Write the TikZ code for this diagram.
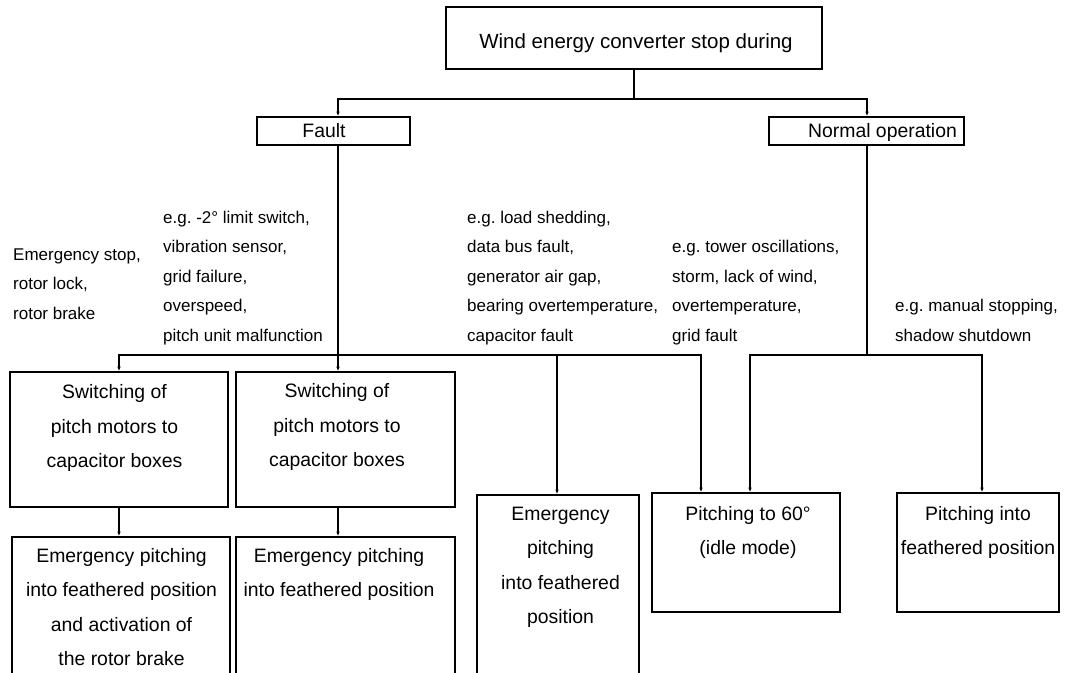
\documentclass[tikz,border=0pt]{standalone}
\usepackage{fontspec}
\setmainfont{Liberation Sans}
\usetikzlibrary{arrows.meta,calc}
\begin{document}
\frenchspacing
\begin{tikzpicture}[x=1pt,y=-1pt,
  box/.style={draw, line width=1.6pt, inner sep=0pt, rectangle},
  conn/.style={line width=1.3pt},
  arr/.style={conn, -{Latex[length=4.5pt,width=3.5pt]}},
  btext/.style={font=\fontsize{19.4}{34.3}\selectfont, align=center, anchor=base, inner sep=0pt},
  atext/.style={font=\fontsize{17}{29.5}\selectfont, align=left, anchor=base west, inner sep=0pt},
]
\useasboundingbox (0,0) rectangle (1065,672);
\clip (0,0) rectangle (1065,672);
% boxes
\node[box, minimum width=376pt, minimum height=62pt] (top) at (634,38) {};
\node[box, minimum width=153pt, minimum height=28pt] (fault) at (333.5,131) {};
\node[box, minimum width=195pt, minimum height=28pt] (normal) at (866.5,131) {};
\node[box, minimum width=218pt, minimum height=135pt] (b1) at (119,439.5) {};
\node[box, minimum width=219pt, minimum height=135pt] (b2) at (345.5,439.5) {};
\node[box, minimum width=218pt, minimum height=183pt] (b3) at (121,628.5) {};
\node[box, minimum width=219pt, minimum height=183pt] (b4) at (345.5,628.5) {};
\node[box, minimum width=162pt, minimum height=225pt] (b5) at (558,607.5) {};
\node[box, minimum width=188pt, minimum height=119pt] (b6) at (746,552.5) {};
\node[box, minimum width=162pt, minimum height=119pt] (b7) at (978,552.5) {};
% box texts (anchor base = baseline of the last line)
\node[btext, font=\fontsize{20.5}{24}\selectfont] (ttop) at (636,48.5) {Wind energy converter stop during};
\node[btext] (tfault) at (324,137) {Fault};
\node[btext] (tnormal) at (882.5,137) {Normal operation};
\node[btext] (t1) at (114.5,467.5) {Switching of\\pitch motors to\\capacitor boxes};
\node[btext] (t2) at (337,466.5) {Switching of\\pitch motors to\\capacitor boxes};
\node[btext] (t3) at (121.5,665.4) {Emergency pitching\\into feathered position\\and activation of\\the rotor brake};
\node[btext] (t4) at (339,596.8) {Emergency pitching\\into feathered position};
\node[btext] (t5) at (560.5,623.4) {Emergency\\pitching\\into feathered\\position};
\node[btext] (t6) at (748,554.8) {Pitching to 60°\\(idle mode)};
\node[btext] (t7) at (978,554.8) {Pitching into\\feathered position};
% annotations
\node[atext] (a1) at (13,319) {Emergency stop,\\rotor lock,\\rotor brake};
\node[atext] (a2) at (163,341) {e.g. -2° limit switch,\\vibration sensor,\\grid failure,\\overspeed,\\pitch unit malfunction};
\node[atext] (a3) at (467,341) {e.g. load shedding,\\data bus fault,\\generator air gap,\\bearing overtemperature,\\capacitor fault};
\node[atext] (a4) at (672,341) {e.g. tower oscillations,\\storm, lack of wind,\\overtemperature,\\grid fault};
\node[atext] (a5) at (895,341) {e.g. manual stopping,\\shadow shutdown};
% connectors
\coordinate (fj) at (338,99);
\coordinate (nj) at (867,99);
\draw[arr] (top.south) |- (fj) -- (fj |- fault.north);
\draw[arr] (top.south) |- (nj) -- (nj |- normal.north);
\coordinate (fb) at (338,355);
\coordinate (f1) at (119,355);
\coordinate (f5) at (557,355);
\coordinate (f6) at (701,355);
\draw[arr] (fj |- fault.south) -- (fb |- b2.north);
\draw[arr] (fb) -| (f1 |- b1.north);
\draw[arr] (fb) -| (f6 |- b6.north);
\draw[arr] (f5) -- (f5 |- b5.north);
\coordinate (nb) at (867,355);
\coordinate (n6) at (750,355);
\coordinate (n7) at (982,355);
\draw[arr] (nj |- normal.south) -- (nb) -| (n6 |- b6.north);
\draw[arr] (nb) -| (n7 |- b7.north);
\draw[arr] (b1.south -| f1) -- (f1 |- b3.north);
\draw[arr] (b2.south -| fb) -- (fb |- b4.north);
\end{tikzpicture}
\end{document}
